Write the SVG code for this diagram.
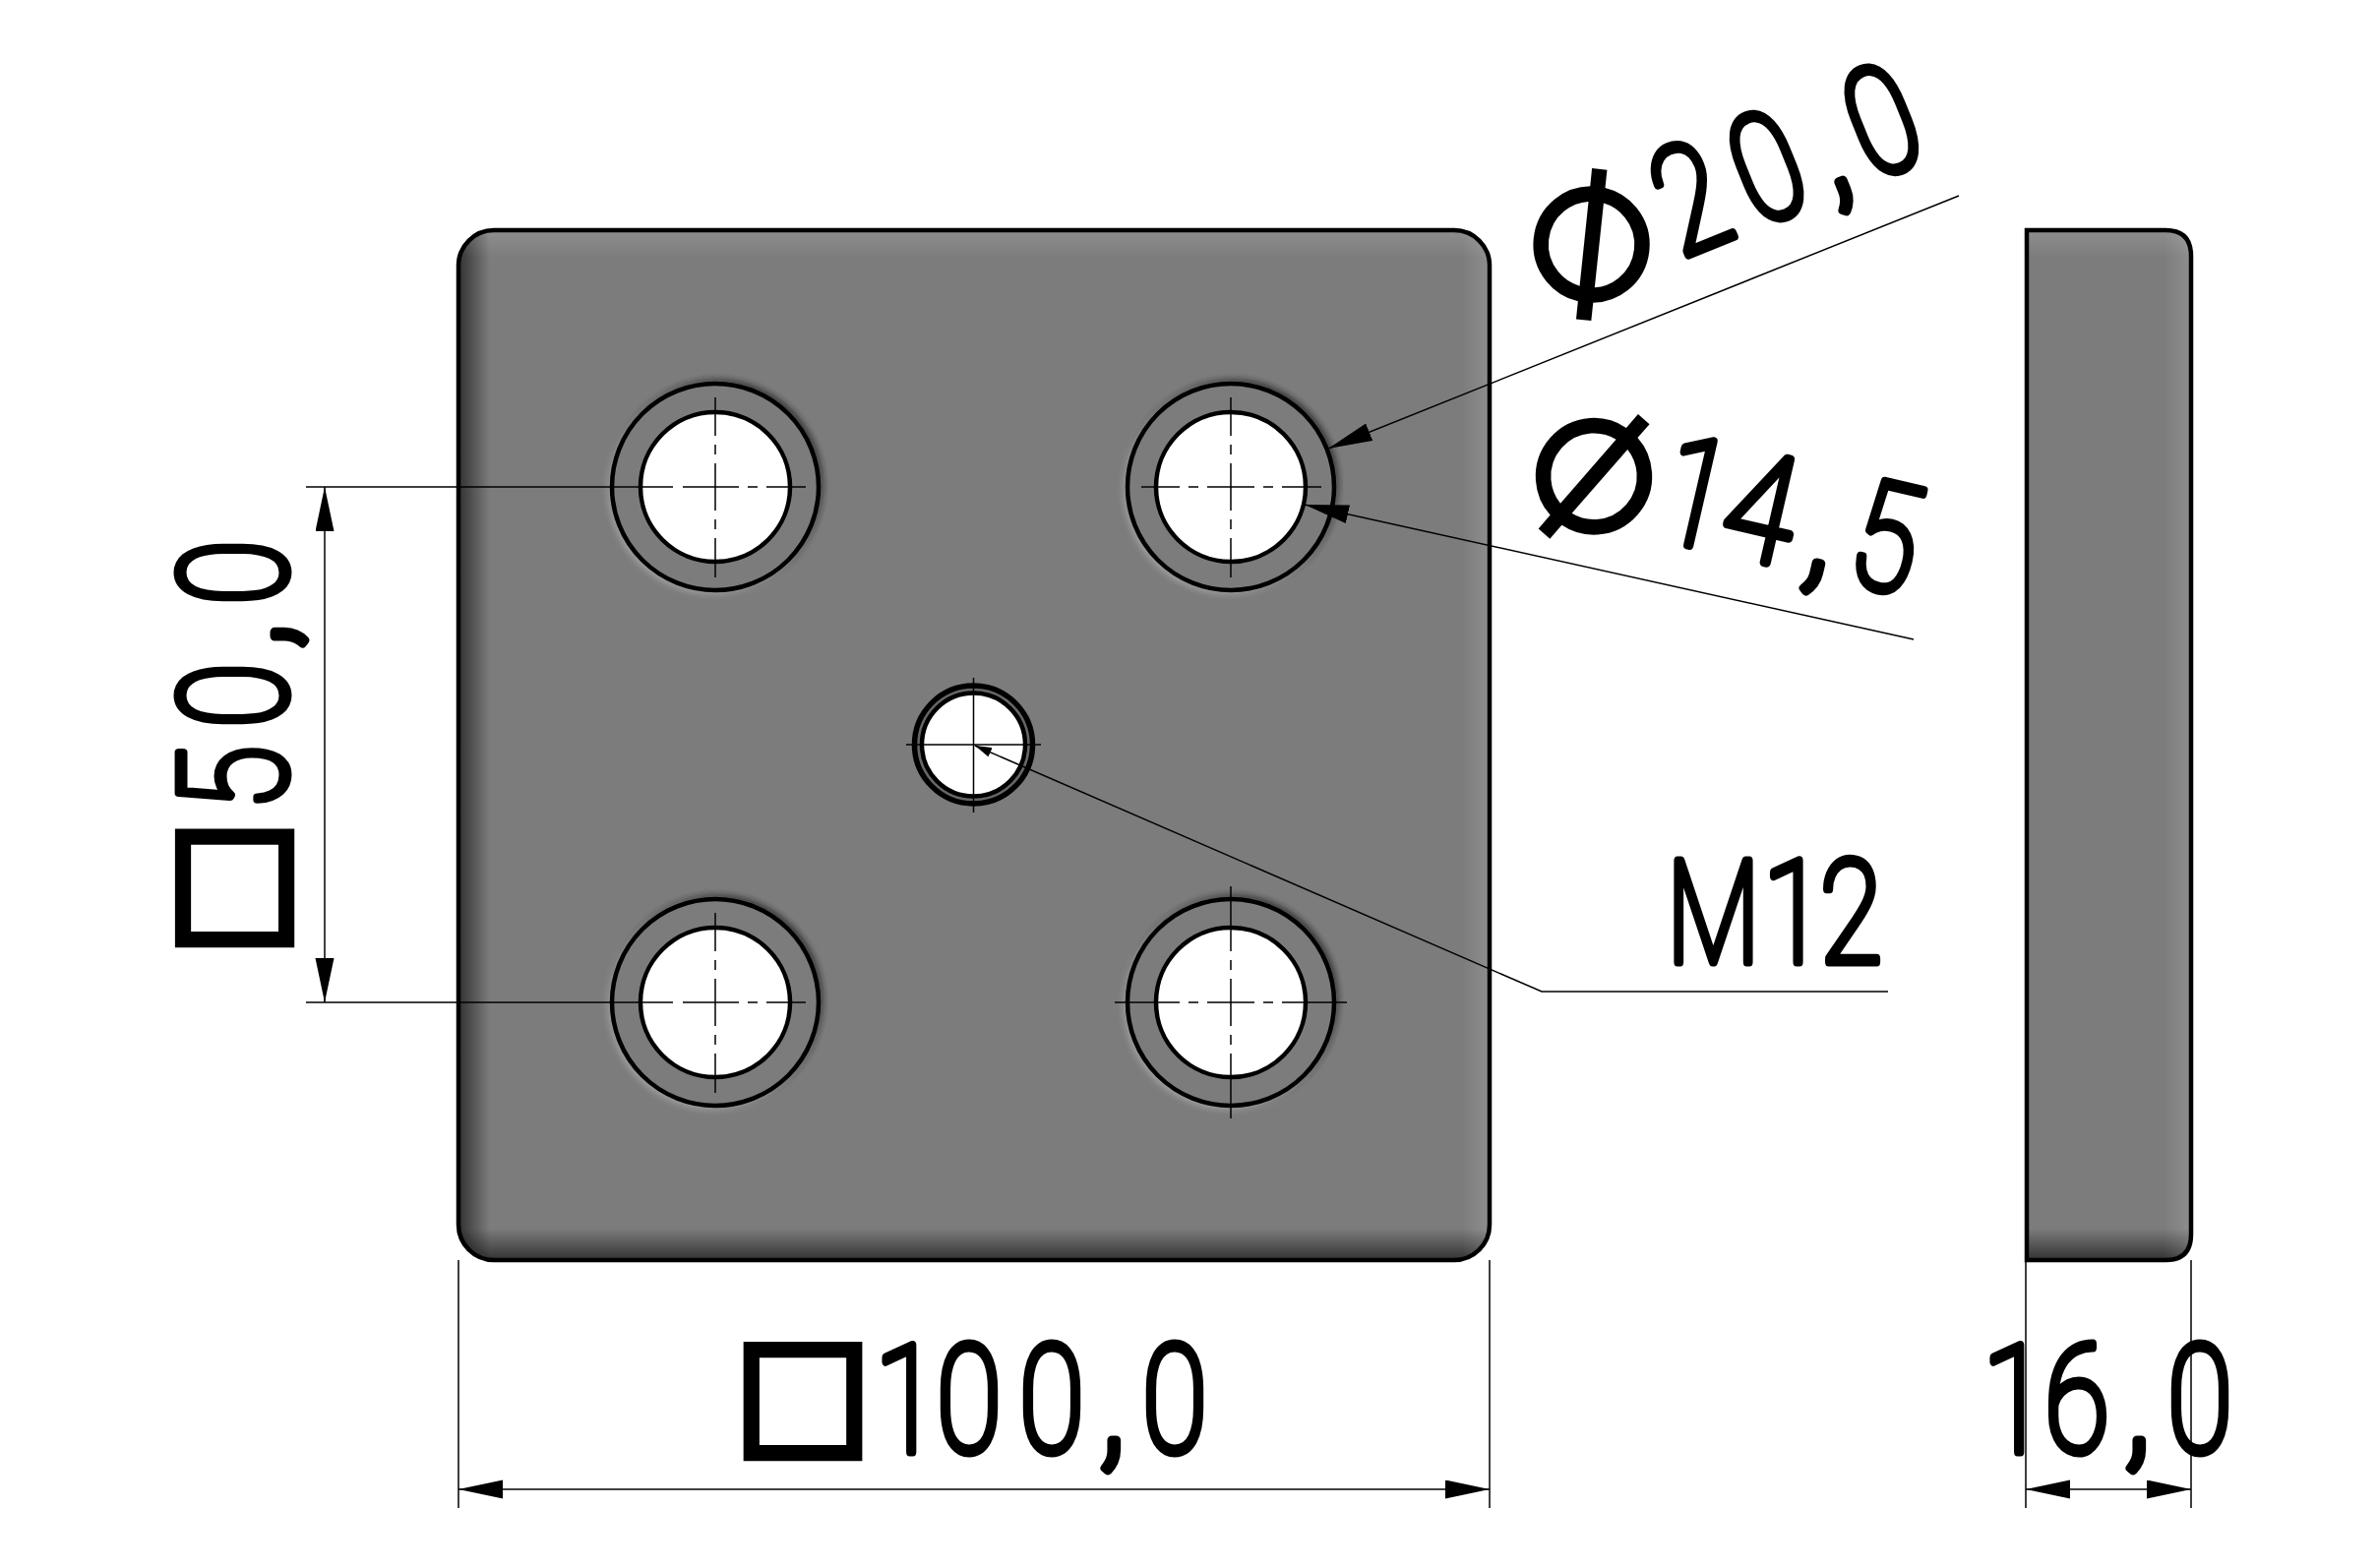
<svg xmlns="http://www.w3.org/2000/svg" width="2417" height="1594" viewBox="0 0 2417 1594">
<style>
.t{font-family:Roboto,"DejaVu Sans",sans-serif;font-weight:100;font-size:152px;fill:#000;stroke:#000;stroke-width:9;stroke-linejoin:round;stroke-linecap:round}
.m{font-size:145px}
.s{font-family:"DejaVu Sans",sans-serif;font-weight:400;font-size:148px;stroke-width:8;stroke-linejoin:miter}
.d{font-family:"DejaVu Sans",sans-serif;font-weight:200;font-size:226px;stroke-width:0}
.thin{fill:none;stroke:#000;stroke-width:1.5}
.edge{fill:none;stroke:#000;stroke-width:4.5}
.hole{fill:#fff;stroke:#000;stroke-width:4.5}
.ring{fill:#7c7c7c;stroke:#000;stroke-width:4.5}
</style>
<defs>
<linearGradient id="gl" x1="0" x2="1" y1="0" y2="0"><stop offset="0" stop-color="#000" stop-opacity=".6"/><stop offset="1" stop-color="#000" stop-opacity="0"/></linearGradient>
<linearGradient id="gb" x1="0" x2="0" y1="1" y2="0"><stop offset="0" stop-color="#000" stop-opacity=".6"/><stop offset="1" stop-color="#000" stop-opacity="0"/></linearGradient>
<linearGradient id="gt" x1="0" x2="0" y1="0" y2="1"><stop offset="0" stop-color="#fff" stop-opacity=".14"/><stop offset="1" stop-color="#fff" stop-opacity="0"/></linearGradient>
<linearGradient id="gr" x1="1" x2="0" y1="0" y2="0"><stop offset="0" stop-color="#fff" stop-opacity=".14"/><stop offset="1" stop-color="#fff" stop-opacity="0"/></linearGradient>
<clipPath id="pc"><rect x="466" y="234" width="1048" height="1047" rx="36"/></clipPath>
<clipPath id="sc"><path d="M2060 234H2201Q2227 234 2227 260V1255Q2227 1281 2201 1281H2060Z"/></clipPath>
<filter id="b" x="-20%" y="-20%" width="140%" height="140%"><feGaussianBlur stdDeviation="3"/></filter>
<marker id="a" markerUnits="userSpaceOnUse" markerWidth="46" markerHeight="20" refX="45" refY="9.5" orient="auto-start-reverse"><path d="M0 0L45 9.5L0 19Z" fill="#000"/></marker>
<marker id="sm" markerUnits="userSpaceOnUse" markerWidth="18" markerHeight="10" refX="17" refY="5" orient="auto"><path d="M0 0L17 5L0 10Z" fill="#000"/></marker>
<g id="hs">
<circle cx="2" cy="-2" r="107" fill="#222" filter="url(#b)"/>
<circle cx="-2" cy="2" r="107" fill="#a8a8a8" filter="url(#b)"/>
<circle r="105" class="ring"/>
<circle r="76" class="hole"/>
</g>
</defs>
<g id="plate">
<rect x="466" y="234" width="1048" height="1047" rx="36" fill="#7c7c7c"/>
<g clip-path="url(#pc)">
<rect x="466" y="234" width="32" height="1047" fill="url(#gl)"/>
<rect x="466" y="1249" width="1048" height="32" fill="url(#gb)"/>
<rect x="466" y="234" width="1048" height="28" fill="url(#gt)"/>
<rect x="1486" y="234" width="28" height="1047" fill="url(#gr)"/>
</g>
<rect x="466" y="234" width="1048" height="1047" rx="36" class="edge"/>
</g>
<g id="hole-tl"><use href="#hs" x="727" y="495"/><path class="thin" transform="translate(727 495)" d="M-52 0H-43M-33 0H-24M-24 0H24M33 0H43M52 0H92M0 -91V-52M0 -43V-33M0 -24V24M0 33V43M0 52V92"/></g>
<g id="hole-tr"><use href="#hs" x="1251" y="495"/><path class="thin" transform="translate(1251 495)" d="M-91 0H-52M-43 0H-33M-24 0H24M33 0H43M52 0H92M0 -91V-52M0 -43V-33M0 -24V24M0 33V43M0 52V92"/></g>
<g id="hole-bl"><use href="#hs" x="727" y="1019"/><path class="thin" transform="translate(727 1019)" d="M-52 0H-43M-33 0H-24M-24 0H24M33 0H43M52 0H92M0 -91V-52M0 -43V-33M0 -24V24M0 33V43M0 52V92"/></g>
<g id="hole-br"><use href="#hs" x="1251" y="1019"/><path class="thin" transform="translate(1251 1019)" d="M-118 0H-52M-43 0H-33M-24 0H24M33 0H43M52 0H118M0 -118V-52M0 -43V-33M0 -24V24M0 33V43M0 52V118"/></g>
<g id="hole-center">
<circle cx="989.5" cy="757" r="60" fill="#666" stroke="#000" stroke-width="5.5"/>
<circle cx="989.5" cy="757" r="52.5" class="hole"/>
<path class="thin" d="M921 757H1058M989.5 689V826"/>
</g>
<g id="side">
<path d="M2060 234H2201Q2227 234 2227 260V1255Q2227 1281 2201 1281H2060Z" fill="#7c7c7c"/>
<g clip-path="url(#sc)">
<rect x="2060" y="1249" width="168" height="32" fill="url(#gb)"/>
<rect x="2060" y="234" width="168" height="28" fill="url(#gt)"/>
<rect x="2199" y="234" width="28" height="1047" fill="url(#gr)"/>
</g>
<path d="M2060 234H2201Q2227 234 2227 260V1255Q2227 1281 2201 1281H2060Z" class="edge"/>
</g>
<g id="connectors">
<path class="thin" d="M311 495H675M311 1019H675"/>
<path class="thin" d="M330 495V1019" marker-start="url(#a)" marker-end="url(#a)"/>
<path class="thin" d="M466 1281V1533M1514 1281V1533M2059 1281V1533M2227 1281V1533"/>
<path class="thin" d="M466 1514H1514" marker-start="url(#a)" marker-end="url(#a)"/>
<path class="thin" d="M2059 1514H2227" marker-start="url(#a)" marker-end="url(#a)"/>
<path class="thin" d="M1991 199L1350 456" marker-end="url(#a)"/>
<path class="thin" d="M1945 650L1326 513" marker-end="url(#a)"/>
<path class="thin" d="M1919 1008H1567L991 758" marker-end="url(#sm)"/>
</g>
<g id="labels">
<text class="t" transform="translate(0,1476)"><tspan class="s" x="746" y="-13.5">□</tspan><tspan x="889" y="0" textLength="66" lengthAdjust="spacingAndGlyphs">1</tspan><tspan x="952" textLength="66" lengthAdjust="spacingAndGlyphs">0</tspan><tspan x="1036" textLength="66" lengthAdjust="spacingAndGlyphs">0</tspan><tspan x="1116" textLength="30" lengthAdjust="spacingAndGlyphs">,</tspan><tspan x="1161" textLength="66" lengthAdjust="spacingAndGlyphs">0</tspan></text>
<text class="t" transform="translate(0,1476)"><tspan x="2015" textLength="66" lengthAdjust="spacingAndGlyphs">1</tspan><tspan x="2078" textLength="66" lengthAdjust="spacingAndGlyphs">6</tspan><tspan x="2158" textLength="30" lengthAdjust="spacingAndGlyphs">,</tspan><tspan x="2203" textLength="66" lengthAdjust="spacingAndGlyphs">0</tspan></text>
<text class="t" transform="translate(291,962) rotate(-90)"><tspan class="s" x="-11" y="-14">□</tspan><tspan x="138" y="0" textLength="66" lengthAdjust="spacingAndGlyphs">5</tspan><tspan x="222" textLength="66" lengthAdjust="spacingAndGlyphs">0</tspan><tspan x="301" textLength="30" lengthAdjust="spacingAndGlyphs">,</tspan><tspan x="347" textLength="66" lengthAdjust="spacingAndGlyphs">0</tspan></text>
<text class="t m" transform="translate(0,978)"><tspan x="1694" textLength="95" lengthAdjust="spacingAndGlyphs">M</tspan><tspan x="1792" textLength="63" lengthAdjust="spacingAndGlyphs">1</tspan><tspan x="1850" textLength="63" lengthAdjust="spacingAndGlyphs">2</tspan></text>
<text class="t" transform="translate(1712,261) rotate(-22)"><tspan class="d" x="-132" y="27" rotate="-17">⌀</tspan><tspan x="-5" y="0" textLength="66" lengthAdjust="spacingAndGlyphs">2</tspan><tspan x="79" textLength="66" lengthAdjust="spacingAndGlyphs">0</tspan><tspan x="160" textLength="30" lengthAdjust="spacingAndGlyphs">,</tspan><tspan x="205" textLength="66" lengthAdjust="spacingAndGlyphs">0</tspan></text>
<text class="t" transform="translate(1716,554) rotate(13)"><tspan class="d" x="-158" y="27" rotate="-17">⌀</tspan><tspan x="-37" y="0" textLength="66" lengthAdjust="spacingAndGlyphs">1</tspan><tspan x="28" textLength="72" lengthAdjust="spacingAndGlyphs">4</tspan><tspan x="117" textLength="30" lengthAdjust="spacingAndGlyphs">,</tspan><tspan x="162" textLength="66" lengthAdjust="spacingAndGlyphs">5</tspan></text>
</g>
</svg>
